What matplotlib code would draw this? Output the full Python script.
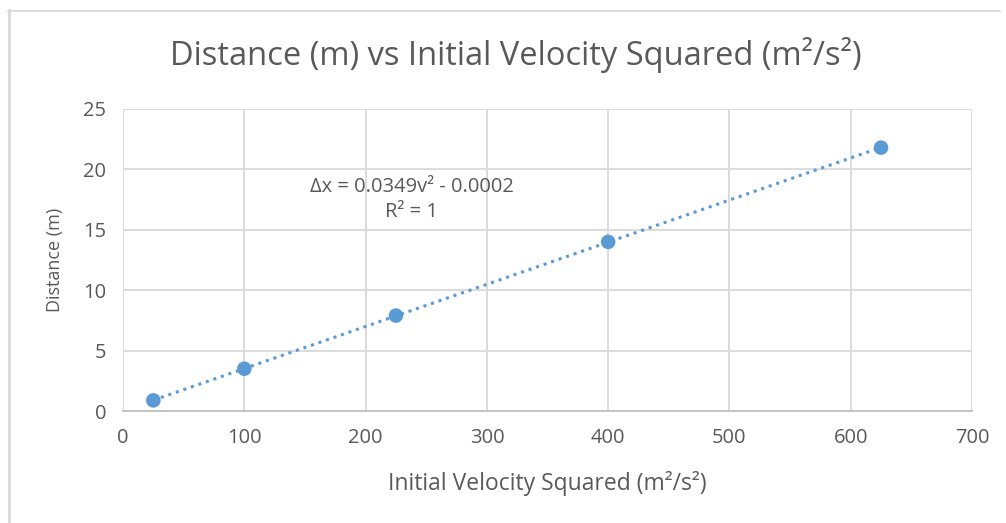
import numpy as np
import matplotlib.pyplot as plt
from matplotlib.lines import Line2D

plt.rcParams['font.family'] = ['Open Sans', 'DejaVu Sans']

# datos
v2 = [25, 100, 225, 400, 625]
distancia = [0.88, 3.5, 7.9, 14.0, 21.8]
xticks = [0, 100, 200, 300, 400, 500, 600, 700]
yticks = [0, 5, 10, 15, 20, 25]

azul = '#5b9bd5'
gris_texto = '#595959'
gris_grid = '#d9d9d9'

fig = plt.figure(figsize=(10.06, 5.23), dpi=100)
ax = fig.add_axes([0.1223, 0.2141, 0.8439, 0.5775])

# borde del area del grafico
fig.add_artist(Line2D([8.5 / 1006, 8.5 / 1006], [0, 1 - 10 / 523], transform=fig.transFigure,
                      color='#d9d9d9', lw=2))
fig.add_artist(Line2D([8 / 1006, 1000 / 1006], [1 - 10.5 / 523, 1 - 10.5 / 523], transform=fig.transFigure,
                      color='#d9d9d9', lw=1.2))

# linea de tendencia
coef = np.polyfit(v2, distancia, 1)
xt = np.array([v2[0], v2[-1]])
ax.plot(xt, np.polyval(coef, xt), linestyle=(0, (1, 1.6)), color=azul, lw=2.2, zorder=3)
ax.scatter(v2, distancia, s=110, color=azul, zorder=4, edgecolors='none')

ax.set_xlim(0, 700)
ax.set_ylim(0, 25)
ax.set_xticks(xticks)
ax.set_yticks(yticks)
ax.grid(True, color=gris_grid, lw=1.3)
ax.set_axisbelow(True)
for lado in ['top', 'right', 'left']:
    ax.spines[lado].set_visible(False)
ax.spines['bottom'].set_color('#bfbfbf')
ax.spines['bottom'].set_linewidth(1.3)
ax.tick_params(length=0, labelsize=14.5, colors=gris_texto)
ax.tick_params(axis='x', pad=12)
ax.tick_params(axis='y', pad=12)

ax.set_xlabel('Initial Velocity Squared (m²/s²)', fontsize=16.5, color=gris_texto, labelpad=17)
ax.set_ylabel('Distance (m)', fontsize=13, color=gris_texto, labelpad=14)
fig.text(0.513, 0.895, 'Distance (m) vs Initial Velocity Squared (m²/s²)',
         ha='center', va='center', fontsize=23.5, color=gris_texto)

ax.text(238, 17.5, 'Δx = 0.0349v² - 0.0002\nR² = 1', ha='center', va='center',
        fontsize=14.5, color=gris_texto, linespacing=1.3)

plt.savefig('out.png', dpi=100, facecolor='white')
